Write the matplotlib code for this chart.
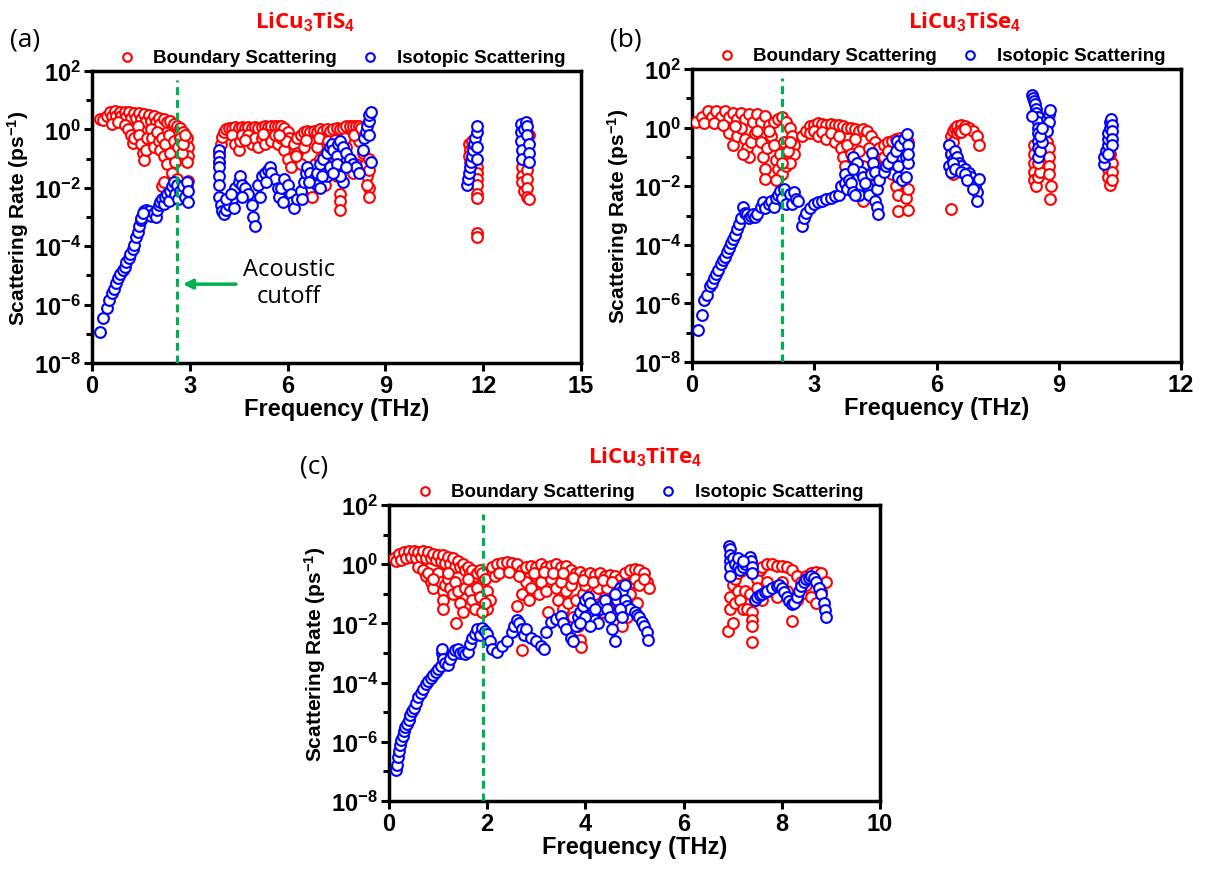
import numpy as np
import matplotlib
matplotlib.use('Agg')
import matplotlib.pyplot as plt
from matplotlib.ticker import FixedLocator, NullFormatter

plt.rcParams['font.family'] = ['Liberation Sans', 'DejaVu Sans']
plt.rcParams['font.weight'] = 'bold'
plt.rcParams['mathtext.fontset'] = 'custom'
plt.rcParams['mathtext.rm'] = 'Liberation Sans:bold'
plt.rcParams['mathtext.bf'] = 'Liberation Sans:bold'
plt.rcParams['mathtext.it'] = 'Liberation Sans:bold:italic'

# ---- data: (frequency in THz, log10 of scattering rate in ps^-1) ----

# (a) LiCu3TiS4
a_boundary = [
    (0.25, 0.35), (0.35, 0.33), (0.45, 0.45), (0.55, 0.6), (0.6, 0.45), (0.7, 0.62), (0.75, 0.45),
    (0.85, 0.6), (0.9, 0.45), (1.0, 0.6), (1.05, 0.42), (1.15, 0.58), (1.2, 0.4), (1.3, 0.57),
    (1.35, 0.38), (1.45, 0.55), (1.5, 0.35), (1.6, 0.52), (1.65, 0.3), (1.75, 0.5), (1.8, 0.28),
    (1.9, 0.45), (1.95, 0.25), (2.05, 0.4), (2.1, 0.2), (2.2, 0.35), (2.3, 0.25), (2.4, 0.3),
    (2.5, 0.2), (2.6, 0.1), (2.7, 0.05), (2.8, -0.1), (2.9, -0.3), (2.95, -0.6), (2.95, -0.9),
    (2.9, -1.1), (0.6, 0.2), (0.8, 0.25), (1.0, 0.15), (1.1, 0.0), (1.2, -0.2), (1.25, -0.45),
    (1.3, -0.3), (1.4, 0.1), (1.45, -0.2), (1.5, -0.5), (1.55, -0.8), (1.6, -1.05), (1.65, -0.7),
    (1.7, -0.3), (1.8, 0.0), (1.85, -0.3), (1.9, -0.6), (2.0, -0.1), (2.05, -0.4), (2.1, -0.7),
    (2.15, -0.3), (2.2, -0.9), (2.25, -0.5), (2.3, -1.2), (2.35, -0.2), (2.4, -0.8), (2.45, -1.5),
    (2.5, -0.4), (2.55, -1.1), (2.6, -1.7), (2.65, -0.6), (2.7, -0.3), (2.75, -0.8), (2.8, -0.5),
    (2.85, -0.2), (2.15, -1.95), (2.2, -1.8), (2.95, -1.75), (2.9, -1.9),
    (3.9, -1.1), (3.9, -0.8), (3.95, -0.5), (4.0, -0.25), (4.05, -0.1), (4.1, 0.0), (4.2, 0.05),
    (4.3, 0.05), (4.4, 0.07), (4.5, 0.05), (4.6, 0.07), (4.7, 0.05), (4.8, 0.08), (4.9, 0.05),
    (5.0, 0.07), (5.1, 0.05), (5.2, 0.08), (5.3, 0.1), (5.4, 0.08), (5.5, 0.1), (5.6, 0.12),
    (5.7, 0.1), (5.8, 0.12), (5.9, 0.05), (6.0, -0.1), (6.05, -0.3), (6.1, -0.6),
    (4.3, -0.2), (4.4, -0.5), (4.5, -0.7), (4.55, -0.4), (4.6, -0.2), (4.8, -0.2), (4.9, -0.5),
    (5.0, -0.3), (5.1, -0.6), (5.2, -0.3), (5.3, -0.5), (5.4, -0.2), (5.5, -0.4), (5.6, -0.2),
    (5.7, -0.5), (5.8, -0.3), (5.9, -0.7), (6.0, -1.0), (5.95, -0.4), (6.1, -1.3),
    (6.2, -0.5), (6.3, -0.3), (6.4, -0.2), (6.5, -0.1), (6.6, -0.05), (6.7, -0.1), (6.8, -0.05),
    (6.9, -0.1), (7.0, 0.0), (7.1, -0.05), (7.2, 0.0), (7.3, -0.05), (7.4, 0.0), (7.5, 0.05),
    (7.6, 0.0), (7.7, 0.05), (7.8, 0.1), (7.9, 0.1), (8.0, 0.12), (8.1, 0.1), (8.2, 0.1),
    (6.3, -0.8), (6.4, -1.2), (6.5, -0.6), (6.6, -1.5), (6.7, -2.0), (6.75, -2.3), (6.8, -1.8),
    (6.85, -1.2), (6.9, -0.6), (7.0, -1.0), (7.1, -1.5), (7.15, -1.9), (7.2, -1.2), (7.3, -0.7),
    (7.4, -1.2), (7.5, -1.6), (7.6, -2.2), (7.6, -2.45), (7.6, -2.75), (7.7, -1.3), (7.8, -0.6),
    (7.9, -1.0), (8.0, -1.5), (8.1, -1.2), (8.2, -0.4), (8.3, -0.8), (8.4, -1.2), (8.45, -1.6),
    (8.5, -2.0), (8.5, -2.3), (8.45, -1.9), (8.5, -1.0), (8.5, -1.4),
    (4.7, -0.35), (5.25, -0.15), (5.75, -0.2), (6.25, -0.9), (6.55, -0.35), (6.95, -0.3),
    (7.25, -0.4), (7.45, -0.35), (7.75, -0.3), (8.05, -0.2), (8.3, -0.1), (8.25, 0.05),
    (11.55, -0.5), (11.6, -0.7), (11.55, -0.9), (11.6, -1.1), (11.65, -0.4), (11.7, -0.6),
    (11.8, -1.3), (11.8, -1.5), (11.8, -1.7), (11.8, -1.9), (11.8, -2.2), (11.8, -2.35),
    (11.8, -3.55), (11.8, -3.7),
    (13.2, -1.3), (13.2, -1.6), (13.2, -1.8), (13.25, -2.1), (13.35, -1.4), (13.35, -1.7),
    (13.35, -2.0), (13.35, -2.3), (13.4, -2.4), (13.3, -1.0), (13.3, -0.6), (13.25, -0.3),
    (13.4, -0.2),
]
a_isotopic = [
    (0.25, -6.95), (0.35, -6.45), (0.45, -6.1), (0.52, -5.85), (0.6, -5.6), (0.68, -5.45),
    (0.75, -5.25), (0.8, -5.1), (0.87, -4.95), (0.95, -4.8), (1.0, -4.7), (1.05, -4.55),
    (1.12, -4.4), (1.18, -4.25), (1.25, -4.1), (1.3, -3.95), (1.35, -3.7), (1.4, -3.5),
    (1.45, -3.3), (1.5, -3.1), (1.55, -2.95), (1.6, -2.8), (1.65, -2.75), (1.75, -2.8),
    (1.8, -2.95), (1.9, -2.85), (1.95, -3.0), (2.0, -2.75), (2.05, -2.6), (2.1, -2.5),
    (2.15, -2.4), (2.2, -2.55), (2.25, -2.3), (2.3, -2.2), (2.35, -2.45), (2.4, -2.1),
    (2.45, -1.95), (2.5, -1.8), (2.55, -2.2), (2.6, -1.9), (2.65, -2.4), (2.7, -2.1),
    (2.8, -1.95), (2.85, -2.3), (2.9, -1.8), (2.95, -2.1), (2.95, -2.5), (1.5, -3.05),
    (1.55, -2.85),
    (3.9, -0.7), (3.9, -0.9), (3.9, -1.1), (3.9, -1.3), (3.9, -1.6), (3.9, -1.9), (3.9, -2.3),
    (3.95, -2.6), (4.0, -2.8), (4.05, -2.9), (4.1, -2.75), (4.2, -2.6), (4.3, -2.4),
    (4.4, -2.0), (4.5, -1.8), (4.55, -1.6), (4.6, -1.9), (4.7, -2.0), (4.8, -2.2), (4.9, -2.6),
    (4.95, -3.0), (5.0, -3.3), (5.1, -1.9), (5.2, -1.6), (5.3, -1.5), (5.4, -1.4), (5.45, -1.3),
    (5.5, -1.5), (5.6, -1.7), (5.7, -2.0), (5.75, -2.3), (5.8, -2.0), (5.9, -1.7), (6.0, -1.9),
    (6.1, -2.2), (6.15, -2.5), (6.2, -2.7), (6.3, -2.4), (6.4, -2.1), (6.5, -1.8), (6.55, -1.5),
    (6.6, -1.3), (6.7, -1.5), (6.8, -1.7), (6.9, -1.5), (7.0, -1.2), (7.1, -1.0), (7.2, -0.8),
    (7.3, -0.6), (7.35, -0.5), (7.4, -0.7), (7.5, -0.9), (7.55, -0.5), (7.6, -0.4), (7.7, -0.6),
    (7.8, -0.8), (7.9, -1.0), (8.0, -1.2), (8.1, -1.3), (8.2, -1.5), (8.3, -0.7), (8.35, -0.3),
    (8.4, -0.1), (8.45, 0.1), (8.5, 0.3), (8.5, 0.5), (8.55, 0.6), (8.5, -0.2), (8.55, -1.1),
    (7.2, -1.6), (7.3, -1.3), (7.5, -1.2), (7.7, -1.8), (7.6, -1.6), (6.9, -1.9), (7.0, -2.0),
    (7.4, -1.5), (4.1, -2.4), (4.25, -2.2), (4.35, -2.7), (4.6, -2.3), (5.15, -2.3),
    (5.35, -1.8), (5.85, -2.5), (6.45, -2.4), (6.65, -1.8), (7.05, -1.6), (7.8, -1.3),
    (11.5, -1.9), (11.52, -1.7), (11.55, -1.5), (11.6, -1.3), (11.62, -1.1), (11.65, -0.9),
    (11.7, -0.7), (11.72, -0.5), (11.75, -0.3), (11.8, -0.1), (11.8, 0.1), (11.8, -0.6),
    (11.8, -1.0),
    (13.15, 0.2), (13.15, -0.1), (13.15, -0.4), (13.2, -0.7), (13.2, -1.0), (13.25, 0.0),
    (13.3, 0.25), (13.35, 0.1), (13.35, -0.2), (13.4, -0.5), (13.4, -0.8), (13.4, -1.1),
]

# (b) LiCu3TiSe4
b_boundary = [
    (0.1, 0.2), (0.25, 0.35), (0.4, 0.55), (0.5, 0.35), (0.6, 0.55), (0.7, 0.35), (0.8, 0.55),
    (0.9, 0.35), (1.0, 0.5), (1.1, 0.3), (1.2, 0.5), (1.3, 0.3), (1.4, 0.45), (1.5, 0.2),
    (1.6, 0.45), (1.7, 0.2), (1.8, 0.4), (1.9, 0.1), (2.0, 0.2), (2.1, 0.3), (2.2, 0.35),
    (2.3, 0.2), (2.4, 0.0), (2.45, -0.3), (2.5, -0.6), (2.5, -0.9),
    (0.9, -0.2), (1.0, -0.6), (1.1, -0.3), (1.2, 0.0), (1.3, -0.4), (1.35, -0.7), (1.4, -1.0),
    (1.45, -0.5), (1.55, -0.2), (1.7, -0.5), (1.75, -1.0), (1.8, -1.4), (1.85, -0.7),
    (1.95, -0.3), (2.0, -0.6), (2.05, -1.1), (2.1, -1.4), (2.15, -0.9), (2.2, -1.6),
    (2.25, -0.5), (2.3, -1.3), (2.35, -0.8), (2.4, -1.2), (1.8, -1.75), (2.05, -1.8),
    (2.2, -1.2), (1.25, -0.9), (0.3, 0.15), (0.55, 0.15), (0.75, 0.1), (1.05, 0.05),
    (1.6, -0.1), (1.9, -0.1), (2.4, -0.5),
    (2.7, -0.3), (2.8, -0.1), (2.9, 0.05), (3.0, 0.1), (3.1, 0.15), (3.2, 0.12), (3.3, 0.1),
    (3.4, 0.12), (3.5, 0.1), (3.6, 0.1), (3.7, 0.05), (3.8, 0.0), (3.9, 0.0), (4.0, -0.05),
    (4.1, -0.1), (4.2, -0.05), (4.3, -0.1), (4.4, -0.3), (4.5, -0.5), (4.6, -0.7), (4.7, -0.6),
    (4.8, -0.5), (4.9, -0.45), (5.0, -0.4), (5.1, -0.35), (5.2, -0.4), (5.3, -0.5),
    (2.9, -0.2), (3.0, -0.1), (3.1, -0.3), (3.2, -0.15), (3.3, -0.4), (3.4, -0.2), (3.5, -0.5),
    (3.6, -0.3), (3.65, -0.7), (3.7, -1.0), (3.75, -1.3), (3.8, -0.6), (3.9, -0.9), (4.0, -0.4),
    (4.1, -0.8), (4.2, -1.3), (4.2, -2.5), (4.3, -1.7), (4.35, -0.7), (4.5, -1.2), (4.6, -1.5),
    (4.7, -1.0), (4.8, -0.8), (4.85, -1.2), (4.9, -1.6), (5.0, -2.0), (5.05, -2.3),
    (5.05, -2.85), (5.2, -1.8), (5.25, -2.4), (5.3, -2.1), (5.3, -2.8), (4.95, -1.2),
    (5.15, -1.0),
    (6.3, -0.6), (6.35, -0.3), (6.4, -0.1), (6.45, 0.0), (6.5, 0.05), (6.6, 0.08), (6.7, 0.05),
    (6.8, 0.0), (6.9, -0.1), (7.0, -0.3), (7.05, -0.6), (6.4, -0.5), (6.5, -0.2), (6.55, -0.1),
    (6.6, -0.15), (6.7, -0.05), (6.35, -0.9), (6.4, -1.6), (6.35, -2.77),
    (8.4, -0.6), (8.4, -0.9), (8.4, -1.2), (8.4, -1.5), (8.4, -1.8), (8.45, -2.0), (8.5, -1.7),
    (8.55, -1.5), (8.6, -0.8), (8.7, -0.5), (8.75, -0.7), (8.75, -1.0), (8.75, -1.3),
    (8.75, -1.6), (8.8, -2.0), (8.78, -2.45), (8.5, -1.2),
    (10.2, -1.1), (10.2, -1.4), (10.2, -1.7), (10.25, -1.95), (10.3, -1.2), (10.3, -1.5),
    (10.3, -1.8), (10.25, -0.9),
]
b_isotopic = [
    (0.15, -6.9), (0.25, -6.4), (0.3, -5.9), (0.38, -5.7), (0.45, -5.4), (0.5, -5.3),
    (0.55, -5.15), (0.6, -5.0), (0.65, -4.85), (0.7, -4.65), (0.75, -4.53), (0.8, -4.4),
    (0.85, -4.25), (0.9, -4.1), (0.95, -3.95), (1.0, -3.8), (1.05, -3.65), (1.1, -3.45),
    (1.15, -3.3), (1.2, -3.1), (1.24, -2.7), (1.3, -2.9), (1.35, -2.95), (1.4, -3.1),
    (1.45, -3.0), (1.5, -2.95), (1.55, -3.05), (1.6, -2.95), (1.7, -2.7), (1.75, -2.55),
    (1.8, -2.75), (1.9, -2.6), (1.95, -2.5), (2.0, -2.7), (2.05, -2.4), (2.1, -2.3),
    (2.15, -2.15), (2.2, -2.4), (2.25, -2.1), (2.3, -2.6), (2.4, -2.25), (2.45, -2.6),
    (2.5, -2.2), (2.55, -2.45), (2.6, -2.5),
    (2.7, -3.35), (2.75, -3.1), (2.8, -2.9), (2.9, -2.75), (3.0, -2.6), (3.1, -2.55),
    (3.2, -2.5), (3.3, -2.45), (3.4, -2.4), (3.5, -2.35), (3.6, -2.3), (3.65, -2.0),
    (3.75, -1.6), (3.75, -1.9), (3.8, -2.1), (3.85, -1.8), (3.9, -1.9), (3.95, -2.2),
    (3.95, -1.0), (4.0, -1.3), (4.05, -1.2), (4.1, -2.3), (4.15, -1.5), (4.2, -1.7),
    (4.3, -2.0), (4.35, -2.3), (4.4, -1.6), (4.42, -0.85), (4.45, -1.2), (4.5, -1.5),
    (4.5, -2.5), (4.55, -2.7), (4.56, -2.94), (4.55, -2.1), (4.6, -1.8), (4.7, -1.5),
    (4.75, -1.3), (4.8, -1.2), (4.9, -1.0), (5.0, -0.8), (5.04, -0.45), (5.05, -1.3),
    (5.05, -1.7), (5.1, -0.6), (5.15, -1.8), (5.2, -0.4), (5.28, -0.22), (5.25, -1.0),
    (5.3, -0.6), (5.3, -1.2), (5.25, -1.7), (5.3, -0.9), (4.25, -1.9), (4.0, -2.3),
    (3.95, -1.4),
    (6.3, -0.6), (6.35, -0.9), (6.4, -1.1), (6.45, -0.8), (6.5, -1.0), (6.55, -1.2),
    (6.6, -1.3), (6.7, -1.4), (6.8, -1.55), (6.85, -1.7), (6.9, -1.9), (6.95, -2.0),
    (7.0, -2.2), (7.0, -2.5), (7.05, -1.75), (6.3, -1.3), (6.35, -1.5), (6.4, -1.2),
    (6.45, -1.4), (6.6, -1.5), (6.7, -1.6), (6.75, -1.8), (6.9, -2.1),
    (8.35, 1.1), (8.38, 1.0), (8.4, 0.9), (8.42, 0.8), (8.45, 0.65), (8.45, 0.5), (8.48, 0.35),
    (8.5, 0.2), (8.5, 0.0), (8.5, -0.2), (8.5, -0.45), (8.5, -0.7), (8.5, -1.0), (8.55, -0.8),
    (8.6, -0.5), (8.65, -0.1), (8.7, 0.1), (8.7, 0.3), (8.75, 0.45), (8.78, 0.6), (8.75, 0.2),
    (8.7, -0.1), (8.35, 0.4), (8.55, -0.3), (8.6, 0.0),
    (10.1, -1.25), (10.12, -1.0), (10.15, -0.8), (10.2, -0.6), (10.2, -0.4), (10.22, -0.2),
    (10.25, 0.0), (10.25, 0.2), (10.28, 0.3), (10.3, 0.1), (10.3, -0.1), (10.3, -0.4),
    (10.3, -0.6), (10.22, -0.9),
]

# (c) LiCu3TiTe4
c_boundary = [
    (0.1, 0.2), (0.15, 0.1), (0.2, 0.35), (0.25, 0.15), (0.3, 0.4), (0.35, 0.2), (0.4, 0.45),
    (0.45, 0.25), (0.5, 0.45), (0.55, 0.2), (0.6, 0.4), (0.65, 0.25), (0.7, 0.45), (0.75, 0.2),
    (0.8, 0.4), (0.85, 0.2), (0.9, 0.35), (0.95, 0.15), (1.0, 0.3), (1.05, 0.1), (1.1, 0.3),
    (1.15, 0.05), (1.2, 0.25), (1.25, 0.0), (1.3, 0.2), (1.35, -0.1), (1.4, 0.1), (1.45, -0.1),
    (1.5, 0.0), (1.55, -0.2), (1.6, -0.1), (1.65, -0.3), (1.7, -0.2), (1.75, -0.4), (1.8, -0.3),
    (1.85, -0.2), (1.9, -0.3), (1.95, -0.5), (2.0, -0.9), (2.05, -1.2), (2.0, -1.5),
    (0.6, -0.1), (0.7, -0.2), (0.75, -0.4), (0.8, -0.3), (0.85, -0.6), (0.9, -0.8),
    (0.95, -0.5), (1.0, -0.3), (1.05, -0.6), (1.1, -0.9), (1.1, -1.2), (1.1, -1.5),
    (1.15, -0.7), (1.2, -0.5), (1.25, -0.8), (1.3, -1.0), (1.35, -0.6), (1.4, -0.9),
    (1.45, -1.3), (1.5, -1.6), (1.55, -0.8), (1.6, -0.5), (1.65, -0.9), (1.7, -1.2),
    (1.75, -1.5), (1.8, -0.8), (1.85, -1.1), (1.9, -1.6), (1.95, -1.3), (1.37, -2.0),
    (0.9, -0.5), (1.2, -0.3),
    (2.1, -0.1), (2.2, 0.0), (2.3, 0.05), (2.4, 0.08), (2.5, 0.05), (2.6, 0.0), (2.7, -0.2),
    (2.8, -0.1), (2.9, -0.05), (3.0, -0.1), (3.1, 0.0), (3.2, -0.1), (3.3, -0.05), (3.4, 0.0),
    (3.5, -0.1), (3.6, -0.05), (3.7, -0.2), (3.8, -0.3), (3.9, -0.25), (4.0, -0.35),
    (4.1, -0.3), (4.2, -0.35), (4.3, -0.3), (4.4, -0.4), (4.5, -0.35), (4.6, -0.4),
    (4.7, -0.5), (4.8, -0.3), (4.9, -0.2), (5.0, -0.15), (5.1, -0.2), (5.2, -0.3),
    (5.25, -0.6), (5.3, -0.8),
    (2.6, -1.4), (2.7, -2.9), (2.7, -1.0), (2.8, -0.6), (2.85, -1.2), (2.9, -0.8), (3.0, -0.4),
    (3.05, -1.0), (3.1, -0.6), (3.2, -0.9), (3.24, -1.62), (3.3, -0.5), (3.4, -0.8),
    (3.45, -1.2), (3.5, -0.6), (3.55, -1.5), (3.6, -0.9), (3.65, -1.3), (3.7, -0.7),
    (3.75, -1.8), (3.8, -1.2), (3.85, -2.1), (3.9, -2.55), (3.91, -2.8), (3.95, -1.0),
    (4.0, -0.7), (4.05, -1.5), (4.1, -1.9), (4.2, -1.0), (4.25, -0.8), (4.3, -1.4),
    (4.35, -1.6), (4.4, -1.1), (4.45, -0.8), (4.5, -1.3), (4.55, -1.7), (4.6, -1.2),
    (4.65, -0.9), (4.7, -1.5), (4.75, -2.1), (4.8, -1.0), (4.85, -1.8), (4.9, -1.0),
    (4.95, -0.6), (5.0, -0.5), (5.05, -1.3), (5.1, -0.7), (5.2, -0.5),
    (2.15, -0.4), (2.25, -0.3), (2.45, -0.25), (2.65, -0.4), (2.95, -0.3), (3.15, -0.25),
    (3.35, -0.3), (3.55, -0.3), (3.75, -0.45), (3.95, -0.55), (4.15, -0.6), (4.35, -0.55),
    (4.55, -0.6), (4.75, -0.7),
    (7.0, -0.7), (7.05, -0.5), (7.1, -0.3), (7.2, -0.2), (7.3, -0.1), (7.4, -0.3), (7.5, -0.5),
    (7.55, -0.2), (7.6, -0.1), (7.7, 0.0), (7.8, 0.0), (7.9, -0.05), (8.0, -0.05), (8.1, -0.1),
    (8.2, -0.2), (8.3, -0.4), (8.4, -0.6), (8.5, -0.4), (8.6, -0.3), (8.7, -0.25), (8.8, -0.3),
    (8.9, -0.6),
    (6.95, -1.1), (6.95, -1.5), (6.9, -2.25), (7.0, -2.0), (7.05, -1.3), (7.1, -0.9),
    (7.15, -1.2), (7.2, -1.5), (7.25, -0.9), (7.3, -1.5), (7.35, -1.0), (7.4, -1.6),
    (7.4, -1.9), (7.4, -2.1), (7.4, -2.64), (7.45, -1.2), (7.5, -0.8), (7.6, -1.2),
    (7.7, -0.6), (7.8, -0.9), (7.9, -1.1), (8.0, -0.6), (8.1, -0.9), (8.2, -1.91),
    (8.3, -1.2), (8.4, -1.0), (8.5, -0.7), (8.6, -1.1), (8.7, -1.3), (8.8, -0.9),
]
c_isotopic = [
    (0.15, -6.95), (0.17, -6.8), (0.18, -6.5), (0.2, -6.3), (0.23, -6.1), (0.25, -5.95),
    (0.28, -5.8), (0.3, -5.65), (0.33, -5.5), (0.37, -5.4), (0.4, -5.25), (0.43, -5.1),
    (0.47, -4.95), (0.5, -4.85), (0.55, -4.7), (0.6, -4.5), (0.65, -4.35), (0.7, -4.2),
    (0.75, -4.05), (0.8, -3.95), (0.85, -3.85), (0.9, -3.75), (0.95, -3.65), (1.0, -3.55),
    (1.05, -3.45), (1.08, -3.0), (1.08, -2.85), (1.1, -3.2), (1.15, -3.35), (1.2, -3.4),
    (1.25, -3.2), (1.3, -3.05), (1.35, -2.9), (1.4, -2.85), (1.45, -3.0), (1.5, -2.95),
    (1.55, -3.05), (1.6, -2.95), (1.65, -2.7), (1.7, -2.5), (1.75, -2.35), (1.8, -2.2),
    (1.85, -2.4), (1.9, -2.15), (1.95, -2.25), (2.0, -2.35), (2.05, -2.6), (2.1, -2.85),
    (2.2, -2.95), (2.3, -2.75), (2.4, -2.6), (2.5, -2.3), (2.55, -2.1), (2.6, -1.9),
    (2.65, -2.0), (2.7, -2.2), (2.75, -2.4), (2.8, -2.2), (2.9, -2.5), (3.0, -2.6),
    (3.1, -2.75), (3.15, -2.85), (3.2, -2.3), (3.3, -1.95), (3.4, -1.85), (3.5, -1.75),
    (3.55, -2.0), (3.6, -2.2), (3.7, -2.5), (3.75, -2.6), (3.8, -2.1), (3.85, -1.8),
    (3.9, -1.6), (3.95, -1.4), (4.0, -1.2), (4.05, -1.1), (4.1, -1.3), (4.15, -1.6),
    (4.2, -1.9), (4.25, -2.0), (4.3, -1.5), (4.35, -1.3), (4.4, -1.2), (4.45, -1.5),
    (4.5, -1.8), (4.55, -2.2), (4.6, -2.6), (4.65, -1.2), (4.7, -0.8), (4.75, -0.9),
    (4.8, -1.2), (4.85, -1.4), (4.9, -1.5), (5.0, -1.6), (5.05, -1.7), (5.1, -1.8),
    (5.15, -1.95), (5.2, -2.1), (5.25, -2.3), (5.28, -2.55), (4.0, -1.8), (4.1, -2.1),
    (3.9, -2.0), (4.7, -1.5), (4.75, -1.8), (4.2, -1.5), (4.6, -1.0), (4.8, -0.7),
    (6.93, 0.6), (6.95, 0.5), (6.95, 0.3), (6.95, 0.1), (6.95, -0.1), (6.95, -0.4),
    (7.0, 0.2), (7.05, 0.0), (7.1, -0.1), (7.15, -0.2), (7.2, -0.1), (7.25, 0.0), (7.3, 0.15),
    (7.35, 0.25), (7.38, 0.1), (7.4, -0.1), (7.4, -0.3), (7.45, -1.2), (7.5, -1.1),
    (7.55, -1.05), (7.6, -1.0), (7.65, -0.95), (7.7, -0.9), (7.8, -0.8), (7.9, -0.75),
    (7.95, -0.7), (8.0, -0.8), (8.05, -0.95), (8.1, -1.1), (8.15, -1.25), (8.2, -1.35),
    (8.25, -1.3), (8.3, -1.1), (8.35, -0.9), (8.4, -0.75), (8.45, -0.6), (8.5, -0.5),
    (8.55, -0.45), (8.6, -0.4), (8.65, -0.45), (8.7, -0.6), (8.75, -0.8), (8.8, -1.0),
    (8.85, -1.3), (8.88, -1.55), (8.9, -1.8), (7.1, 0.2), (7.2, 0.1),
]

panels = [
    dict(tag='(a)', formula=r'LiCu$_3$TiS$_4$', xmax=15, xticks=[0, 3, 6, 9, 12, 15], cutoff=2.62,
         bnd=a_boundary, iso=a_isotopic, rect=[92, 72, 581, 364], title_xy=(305, 22), tag_xy=(10, 40)),
    dict(tag='(b)', formula=r'LiCu$_3$TiSe$_4$', xmax=12, xticks=[0, 3, 6, 9, 12], cutoff=2.2,
         bnd=b_boundary, iso=b_isotopic, rect=[692, 70, 1181, 363], title_xy=(965, 22), tag_xy=(610, 40)),
    dict(tag='(c)', formula=r'LiCu$_3$TiTe$_4$', xmax=10, xticks=[0, 2, 4, 6, 8, 10], cutoff=1.92,
         bnd=c_boundary, iso=c_isotopic, rect=[389, 506, 880, 802], title_xy=(645, 457), tag_xy=(300, 467)),
]

W, H = 1211, 870
green = '#00b050'
fig = plt.figure(figsize=(W / 100, H / 100), dpi=100)

for p in panels:
    l, t, r, b = p['rect']
    ax = fig.add_axes([l / W, 1 - b / H, (r - l) / W, (b - t) / H])
    bnd = np.array(p['bnd'])
    iso = np.array(p['iso'])
    ax.scatter(bnd[:, 0], 10 ** bnd[:, 1], s=60, facecolors='white', edgecolors='#ff0000',
               linewidths=1.5, label='Boundary Scattering', zorder=3)
    ax.scatter(iso[:, 0], 10 ** iso[:, 1], s=60, facecolors='white', edgecolors='#0000ff',
               linewidths=1.5, label='Isotopic Scattering', zorder=4)
    ax.axvline(p['cutoff'], ymin=0, ymax=0.97, color=green, lw=2.3, dashes=(2.5, 1.5), zorder=5)

    ax.set_yscale('log')
    ax.set_ylim(1e-8, 1e2)
    ax.set_xlim(0, p['xmax'])
    ax.set_xticks(p['xticks'])
    ax.set_yticks([10.0 ** k for k in range(-8, 3, 2)])
    ax.set_yticklabels([r'$10^{%d}$' % k for k in range(-8, 3, 2)])
    ax.yaxis.set_minor_locator(FixedLocator([10.0 ** k for k in range(-7, 2, 2)]))
    ax.yaxis.set_minor_formatter(NullFormatter())
    ax.xaxis.set_minor_locator(FixedLocator([]))
    ax.tick_params(axis='both', which='major', direction='out', length=6, width=2.2,
                   labelsize=17, pad=2)
    ax.tick_params(axis='y', which='minor', direction='out', length=4, width=2.2)
    for s in ax.spines.values():
        s.set_linewidth(2.5)
    for lab in ax.get_xticklabels() + ax.get_yticklabels():
        lab.set_fontweight('bold')

    ax.set_xlabel('Frequency (THz)', fontsize=17, fontweight='bold', labelpad=0)
    ax.set_ylabel(r'Scattering Rate (ps$^{-1}$)', fontsize=15, fontweight='bold', labelpad=2)

    ax.legend(loc='lower center', bbox_to_anchor=(0.5, 0.985), ncol=2, frameon=False,
              prop={'size': 13.5, 'weight': 'bold'}, handletextpad=0.4, columnspacing=0.8,
              borderaxespad=0.1, markerscale=0.8)

    fig.text(p['title_xy'][0] / W, 1 - p['title_xy'][1] / H, p['formula'], color='#ff0000',
             fontsize=16, fontweight='bold', family='Open Sans', ha='center', va='center')
    fig.text(p['tag_xy'][0] / W, 1 - p['tag_xy'][1] / H, p['tag'], fontsize=19,
             fontweight='normal', family='Open Sans', ha='left', va='center')

    if p['tag'] == '(a)':
        ax.annotate('', xy=(2.7, 10 ** -5.3), xytext=(4.5, 10 ** -5.3),
                    arrowprops=dict(arrowstyle='-|>', color=green, lw=2.5, mutation_scale=14),
                    zorder=6)
        ax.text(6.05, 10 ** -5.25, 'Acoustic\ncutoff', fontsize=17, fontweight='normal',
                family='Open Sans', ha='center', va='center', linespacing=1.2)

fig.savefig('out.png', dpi=100, facecolor='white')
